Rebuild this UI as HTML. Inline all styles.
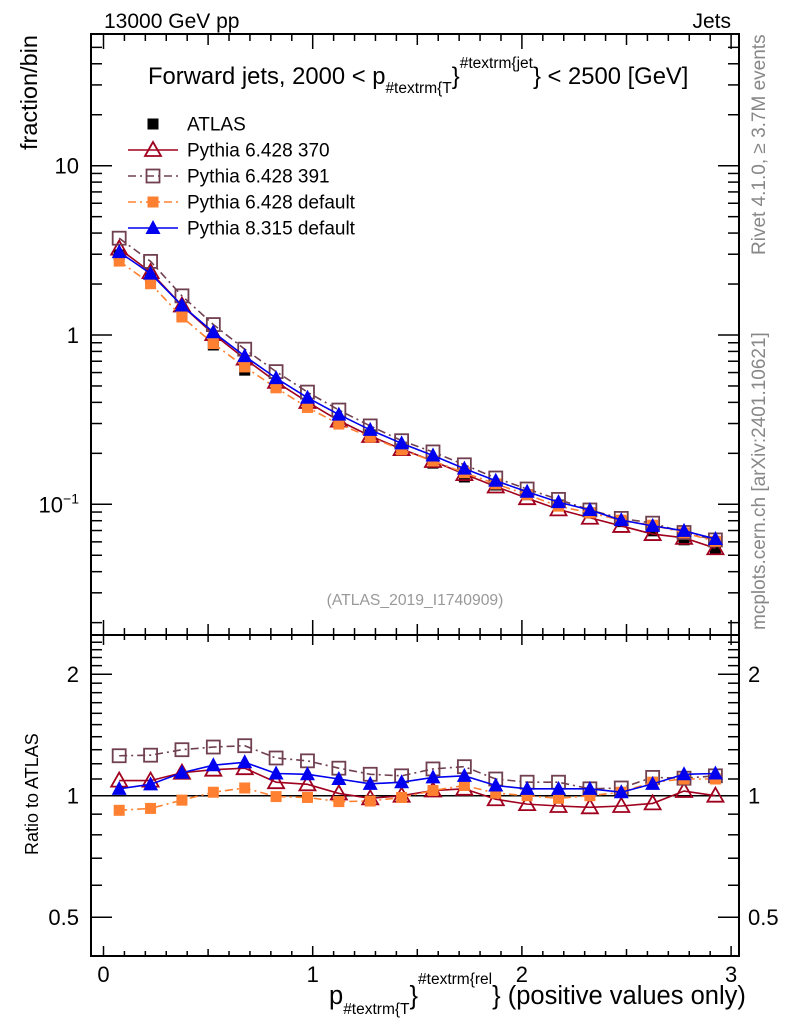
<!DOCTYPE html>
<html><head><meta charset="utf-8">
<style>
html,body{margin:0;padding:0;background:#fff;}
svg{display:block;font-family:"Liberation Sans",sans-serif;}
</style></head>
<body>
<svg id="chart" width="786" height="1024" viewBox="0 0 786 1024" xmlns="http://www.w3.org/2000/svg">
<rect x="0" y="0" width="786" height="1024" fill="#fff"/>
<g id="plot"></g>
<text x="104" y="28" font-size="21">13000 GeV pp</text>
<text x="731" y="28" font-size="21" text-anchor="end">Jets</text>
<text x="148" y="84" font-size="23.8">Forward jets, 2000 &lt; p<tspan font-size="15.5" dy="9">#textrm{T</tspan><tspan font-size="23.8" dy="-9">}</tspan><tspan font-size="15.5" dy="-16">#textrm{jet</tspan><tspan font-size="23.8" dy="16">} &lt; 2500 [GeV]</tspan></text>
<text transform="translate(37,150) rotate(-90)" font-size="23.5">fraction/bin</text>
<text transform="translate(38,855) rotate(-90)" font-size="18">Ratio to ATLAS</text>
<text transform="translate(765,255) rotate(-90)" font-size="19" fill="#888">Rivet 4.1.0, ≥ 3.7M events</text>
<text transform="translate(765,630) rotate(-90)" font-size="19" fill="#888">mcplots.cern.ch [arXiv:2401.10621]</text>
<text x="415" y="605" font-size="15.7" fill="#999" text-anchor="middle">(ATLAS_2019_I1740909)</text>
<text x="329" y="1004" font-size="25.5">p<tspan font-size="15.5" dy="10">#textrm{T</tspan><tspan font-size="25.5" dy="-10">}</tspan><tspan font-size="15.5" dy="-20">#textrm{rel</tspan><tspan font-size="25.5" dy="20">} (positive values only)</tspan></text>
</svg>
<script>
const xCenters = [0.075,0.225,0.375,0.525,0.675,0.825,0.975,1.125,1.275,1.425,1.575,1.725,1.875,2.025,2.175,2.325,2.475,2.625,2.775,2.925];
const atlasValues = [2.97,2.16,1.31,0.873,0.62,0.49,0.377,0.308,0.257,0.212,0.175,0.145,0.13,0.114,0.099,0.089,0.079,0.0697,0.0617,0.055];
const ratio370 = [1.09,1.09,1.14,1.16,1.17,1.08,1.067,1.013,0.985,1.0,1.03,1.04,0.98,0.953,0.943,0.936,0.943,0.957,1.027,1.0];
const ratio391 = [1.256,1.26,1.30,1.32,1.33,1.24,1.22,1.17,1.13,1.12,1.165,1.18,1.10,1.08,1.08,1.04,1.045,1.11,1.105,1.12];
const ratio6def = [0.92,0.93,0.975,1.02,1.045,0.995,0.99,0.967,0.97,0.99,1.03,1.06,1.015,1.0,0.985,1.0,1.02,1.08,1.10,1.10];
const ratio8def = [1.04,1.067,1.14,1.19,1.21,1.135,1.13,1.10,1.07,1.08,1.11,1.12,1.06,1.04,1.04,1.04,1.02,1.07,1.13,1.135];
const xTickLabels = ["0","1","2","3"];
const mainTickLabels = ["10","1"];
const ratioTickLabels = ["0.5","1","2"];

const NS="http://www.w3.org/2000/svg";
const g=document.getElementById('plot');
const L=91,R=739,T=34,MB=635,RB=956;
const xScale=v=>103.5+209.2*v;
const yMain=v=>335-169.3*Math.log10(v);
const yRatio=v=>795.7-121.5*Math.log2(v);
function el(tag,attrs,parent){const e=document.createElementNS(NS,tag);for(const k in attrs)e.setAttribute(k,attrs[k]);(parent||g).appendChild(e);return e;}

const f1=el('rect',{x:L,y:T,width:R-L,height:MB-T,fill:'none',stroke:'#000','stroke-width':2});


const f2=el('rect',{x:L,y:MB,width:R-L,height:RB-MB,fill:'none',stroke:'#000','stroke-width':2});



const tk=el('g',{stroke:'#000','stroke-width':1.5});


for(let i=0;i<=30;i++){
  const v=i/10, x=xScale(v);
  if(x>R) break;
  const len= i%10==0?15:(i%5==0?11:7);
  const lr= i%10==0?10:(i%5==0?7:5);
  el('line',{x1:x,y1:T,x2:x,y2:T+len},tk);
  el('line',{x1:x,y1:MB,x2:x,y2:MB-len},tk);
  el('line',{x1:x,y1:MB,x2:x,y2:MB+lr},tk);
  el('line',{x1:x,y1:RB,x2:x,y2:RB-lr},tk);
}
xTickLabels.forEach((s,i)=>{
  const t=el('text',{x:xScale(+s),y:982,'font-size':22,'text-anchor':'middle'});
  t.textContent=s;
  
  
});
for(let d=-2;d<=1;d++){
  for(let m=1;m<=9;m++){
    const v=m*Math.pow(10,d), y=yMain(v);
    if(y<T||y>MB) continue;
    const len=m==1?21:11;
    el('line',{x1:L,y1:y,x2:L+len,y2:y},tk);
    el('line',{x1:R,y1:y,x2:R-len,y2:y},tk);
  }
}
mainTickLabels.forEach(s=>{
  const t=el('text',{x:79,y:yMain(+s)+8,'font-size':22,'text-anchor':'end'});
  t.textContent=s;
  
  
});
const tm=el('text',{x:79,y:yMain(0.1)+8,'font-size':22,'text-anchor':'end'});
tm.innerHTML='10<tspan font-size="14" dy="-9">−1</tspan>';


for(let i=4;i<=25;i++){
  const v=i/10, y=yRatio(v);
  if(y<MB||y>RB) continue;
  const len=(i==5||i==10||i==20)?21:11;
  el('line',{x1:L,y1:y,x2:L+len,y2:y},tk);
  el('line',{x1:R,y1:y,x2:R-len,y2:y},tk);
}
ratioTickLabels.forEach(s=>{
  const y=yRatio(+s)+8;
  const t=el('text',{x:79,y:y,'font-size':22,'text-anchor':'end'});
  t.textContent=s;
  
  
  const t2=el('text',{x:748,y:y,'font-size':22});
  t2.textContent=s;
  
  
});
const ref=el('line',{x1:L,y1:yRatio(1),x2:R,y2:yRatio(1),stroke:'#000','stroke-width':1.5});



function marker(parent,type,x,y,color){
  if(type=='sqfill') return el('rect',{x:x-5.5,y:y-5.5,width:11,height:11,fill:color},parent);
  if(type=='sqopen') return el('rect',{x:x-6.5,y:y-6.5,width:13,height:13,fill:'#fff','fill-opacity':0,stroke:color,'stroke-width':1.8},parent);
  if(type=='triopen') return el('path',{d:`M${x} ${y-8}L${x+8} ${y+6}L${x-8} ${y+6}Z`,fill:'none',stroke:color,'stroke-width':1.8},parent);
  if(type=='trifill') return el('path',{d:`M${x} ${y-8}L${x+7.5} ${y+6}L${x-7.5} ${y+6}Z`,fill:color},parent);
}
const series=[
  {name:'pythia6-370',ratio:ratio370,color:'#a0001e',dash:'',m:'triopen'},
  {name:'pythia6-391',ratio:ratio391,color:'#704050',dash:'8,4,2,4',m:'sqopen'},
  {name:'pythia6-default',ratio:ratio6def,color:'#ff8030',dash:'8,4,2,4',m:'sqfill'},
  {name:'pythia8-default',ratio:ratio8def,color:'#0000ee',dash:'',m:'trifill'}
];
const ad=el('g',{});


xCenters.forEach((xv,i)=>{const r=marker(ad,'sqfill',xScale(xv),yMain(atlasValues[i]),'#000');
  
  });
series.forEach(s=>{
  const gs=el('g',{});
  
  
  const mainPts=xCenters.map((xv,i)=>[xScale(xv),yMain(atlasValues[i]*s.ratio[i])]);
  const ratPts=xCenters.map((xv,i)=>[xScale(xv),yRatio(s.ratio[i])]);
  [mainPts,ratPts].forEach((pts,k)=>{
    const pl=el('polyline',{points:pts.map(p=>p.join(',')).join(' '),fill:'none',stroke:s.color,'stroke-width':1.6,'stroke-dasharray':s.dash},gs);
    
    
    pts.forEach(p=>{const m=marker(gs,s.m,p[0],p[1],s.color);
      
      });
  });
});
const legendLabels=['ATLAS','Pythia 6.428 370','Pythia 6.428 391','Pythia 6.428 default','Pythia 8.315 default'];
const lg=el('g',{});


legendLabels.forEach((lab,i)=>{
  const y=124+26*i;
  const e=el('g',{},lg);
  
  
  if(i==0){marker(e,'sqfill',153,y,'#000');}
  else{const s=series[i-1];
    el('line',{x1:128,y1:y,x2:178,y2:y,stroke:s.color,'stroke-width':1.6,'stroke-dasharray':s.dash},e);
    marker(e,s.m,153,y,s.color);}
  const t=el('text',{x:187,y:y+6.5,'font-size':19},e);
  t.textContent=lab;
});
</script>
</body></html>
